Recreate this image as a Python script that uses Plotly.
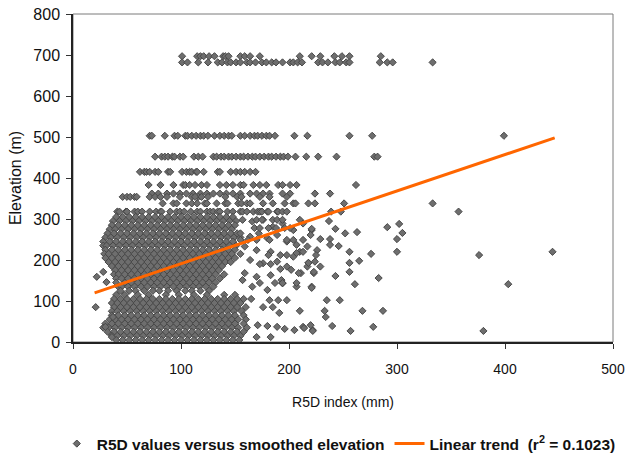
import plotly.graph_objects as go

# ---------------- data ----------------
# Horizontal bands of points (elevation level -> R5D values)
band_elev = [697, 682, 503, 452, 415, 383, 362, 354, 338, 318]
band_r5d = [
    [101, 115, 118, 121, 126, 131, 139, 141, 144, 155, 159, 164, 173, 210, 221, 229, 242, 249, 256, 285],
    [101, 106, 116, 125, 134, 138, 143, 146, 151, 155, 161, 164, 169, 175, 179, 184, 188, 194, 201, 204,
     208, 212, 227, 231, 236, 243, 247, 253, 256, 284, 291, 296, 333],
    [71, 73, 85, 94, 97, 104, 106, 110, 114, 118, 121, 125, 131, 136, 140, 144, 147, 155, 159, 164, 168,
     171, 175, 179, 182, 187, 205, 217, 256, 277, 399],
    [76, 82, 85, 88, 92, 94, 99, 102, 112, 116, 120, 130, 133, 137, 140, 144, 147, 151, 155, 158, 162,
     166, 169, 173, 177, 181, 184, 188, 192, 195, 199, 206, 216, 227, 244, 279, 282],
    [62, 66, 68, 71, 76, 79, 88, 90, 101, 105, 108, 110, 114, 115, 121, 134, 136, 146, 151, 155, 159, 164, 169],
    [70, 81, 93, 102, 104, 108, 113, 119, 124, 136, 142, 148, 155, 158, 167, 173, 179, 190, 194, 201, 207, 262],
    [73, 79, 87, 93, 99, 105, 111, 118, 124, 130, 136, 142, 148, 155, 164, 170, 176, 182, 194, 201, 224, 238],
    [46, 50, 53, 57, 59, 71, 76, 81, 87, 99, 110, 116, 113, 119, 125, 141, 152, 156, 173, 182, 198],
    [83, 93, 96, 105, 110, 115, 122, 124, 133, 141, 143, 153, 156, 161, 164, 176, 185, 196, 204, 206,
     218, 224, 251, 333],
    [41, 43, 49, 50, 57, 60, 64, 71, 77, 81, 82, 90, 96, 99, 103, 109, 115, 118, 124, 127, 130, 134, 136,
     143, 148, 155, 157, 161, 167, 171, 173, 175, 180, 181, 189, 190, 194, 198, 239, 248, 357],
]

# Dense cloud (elevation level -> R5D values)
core_elev = [305, 295, 285, 275, 265, 255, 245, 235, 225, 215, 205, 195, 185, 175, 165, 155, 145, 135,
             125, 115, 105, 95, 85, 75, 65, 55, 45, 35, 25, 15, 5]
core_r5d = [
    [40, 46, 52, 58, 64, 70, 76, 82, 88, 94, 100, 106, 112, 118, 124, 130, 136, 142, 148],
    [37, 43, 49, 55, 61, 67, 73, 79, 85, 91, 97, 103, 109, 115, 121, 127, 133, 139, 145, 151],
    [36, 42, 48, 54, 60, 66, 72, 78, 84, 90, 96, 102, 108, 114, 120, 126, 132, 138, 144, 150],
    [34, 39, 45, 51, 57, 63, 69, 75, 81, 87, 93, 99, 105, 111, 117, 123, 129, 135, 141, 147],
    [32, 38, 44, 50, 56, 62, 68, 74, 80, 86, 92, 98, 104, 110, 116, 122, 128, 134, 140, 146, 152],
    [30, 35, 41, 47, 53, 59, 65, 71, 77, 83, 89, 95, 101, 107, 113, 119, 125, 131, 137, 143, 149, 155],
    [28, 34, 40, 46, 52, 58, 64, 70, 76, 82, 88, 94, 100, 106, 112, 118, 124, 130, 136, 142, 148],
    [28, 31, 37, 43, 49, 55, 61, 67, 73, 79, 85, 91, 97, 103, 109, 115, 121, 127, 133, 139, 145, 151],
    [30, 36, 42, 48, 54, 60, 66, 72, 78, 84, 90, 96, 102, 108, 114, 120, 126, 132, 138, 144, 150],
    [29, 33, 39, 45, 51, 57, 63, 69, 75, 81, 87, 93, 99, 105, 111, 117, 123, 129, 135, 141, 147, 155],
    [30, 36, 42, 48, 54, 60, 66, 72, 78, 84, 90, 96, 102, 108, 114, 120, 126, 132, 138, 144, 150],
    [33, 39, 45, 51, 57, 63, 69, 75, 81, 87, 93, 99, 105, 111, 117, 123, 129, 135, 141, 146],
    [36, 42, 48, 54, 60, 66, 72, 78, 84, 90, 96, 102, 108, 114, 120, 126, 132, 138],
    [39, 45, 51, 57, 63, 69, 75, 81, 87, 93, 99, 105, 111, 117, 123, 129, 135],
    [38, 42, 48, 54, 60, 66, 72, 78, 84, 90, 96, 102, 108, 114, 120, 126, 132, 140],
    [40, 45, 51, 57, 63, 69, 75, 81, 87, 93, 99, 105, 111, 117, 123, 129, 136],
    [40, 48, 54, 60, 66, 72, 78, 84, 90, 96, 102, 108, 114, 120, 126, 132],
    [42, 45, 51, 57, 63, 69, 75, 81, 87, 93, 99, 105, 111, 117, 123, 130],
    [44, 52, 58, 66, 74, 80, 88, 96, 104, 110, 118, 126],
    [40, 48, 60, 70, 86, 98, 112, 124, 140, 150],
    [38, 44, 50, 56, 62, 68, 74, 80, 86, 92, 98, 104, 110, 116, 122, 128, 134, 140, 146, 152, 158, 165],
    [36, 41, 47, 53, 59, 65, 71, 77, 83, 89, 95, 101, 107, 113, 119, 125, 131, 137, 143, 149, 155],
    [38, 44, 50, 56, 62, 68, 74, 80, 86, 92, 98, 104, 110, 116, 122, 128, 134, 140, 146, 152, 160],
    [36, 41, 47, 53, 59, 65, 71, 77, 83, 89, 95, 101, 107, 113, 119, 125, 131, 137, 143, 149, 156],
    [36, 42, 48, 54, 60, 66, 72, 78, 84, 90, 96, 102, 108, 114, 120, 126, 132, 138, 144, 150, 158],
    [34, 39, 45, 51, 57, 63, 69, 75, 81, 87, 93, 99, 105, 111, 117, 123, 129, 135, 141, 147, 153, 160],
    [30, 36, 42, 48, 54, 60, 66, 72, 78, 84, 90, 96, 102, 108, 114, 120, 126, 132, 138, 144, 150, 158],
    [28, 33, 39, 45, 51, 57, 63, 69, 75, 81, 87, 93, 99, 105, 111, 117, 123, 129, 135, 141, 147, 153, 161],
    [32, 38, 44, 50, 56, 62, 68, 74, 80, 86, 92, 98, 104, 110, 116, 122, 128, 134, 140, 146, 152, 158],
    [36, 41, 47, 53, 59, 65, 71, 77, 83, 89, 95, 101, 107, 113, 119, 125, 131, 137, 143, 149, 155],
    [40, 46, 52, 58, 64, 70, 76, 82, 88, 94, 100, 106, 112, 118, 124, 130, 136, 142, 148, 154],
]

# Scattered points (R5D, elevation)
scatter_r5d = [157, 166, 176, 185, 194, 204, 213, 221, 155, 164, 172, 180, 189, 198, 207, 217, 226,
               159, 170, 183, 192, 204, 210, 164, 176, 189, 198, 217, 224, 159, 170, 183, 193, 202, 211,
               221, 166, 180, 194, 207, 157,
               170, 175, 185, 189, 194, 210, 168, 173, 181, 188, 196, 201,
               155, 162, 170, 182, 198, 204, 213,
               181, 198, 207, 218, 223, 209, 192, 183, 173, 173, 187, 194, 207, 182, 190, 198, 176, 185,
               191, 210, 171, 180, 189, 196, 205, 213, 222, 170, 183,
               237, 291, 302, 305, 300, 221, 243, 263, 252, 220, 229, 238, 238, 246, 300, 256, 276, 213,
               225, 376, 444, 265, 218, 256, 229, 223, 256, 243, 283, 261, 403, 221, 235, 247, 233, 268,
               287, 234, 220, 240, 278, 214, 222, 257, 380,
               21, 22, 28, 31, 37, 30, 36]
scatter_elev = [298, 294, 298, 281, 289, 273, 289, 273, 265, 257, 265, 253, 261, 245, 237, 233, 224,
                233, 224, 220, 212, 208, 220, 200, 192, 196, 184, 184, 196, 168, 159, 163, 151, 176, 168,
                135, 135, 127, 143, 135, 151,
                298, 298, 298, 298, 298, 298, 278, 278, 278, 278, 278, 278,
                249, 249, 249, 249, 249, 249, 249,
                212, 212, 217, 193, 168, 168, 178, 190, 190, 144, 144, 144, 144, 102, 102, 102, 85, 85,
                71, 76, 41, 39, 37, 32, 29, 37, 29, 12, 12,
                295, 280, 288, 266, 251, 276, 276, 268, 265, 261, 251, 251, 237, 234, 220, 220, 215, 220,
                212, 212, 220, 198, 193, 193, 184, 171, 171, 161, 156, 141, 141, 132, 102, 102, 76, 76,
                76, 61, 41, 39, 37, 34, 27, 27, 27,
                85, 159, 171, 146, 61, 37, 12]

# Linear trend end points
trend_r5d = [20, 446]
trend_elev = [120, 498]

# ---------------- build point arrays ----------------
pts_x, pts_y = [], []
for e, row in zip(band_elev, band_r5d):
    for v in row:
        pts_x.append(v)
        pts_y.append(e)
for e, row in zip(core_elev, core_r5d):
    for v in row:
        pts_x.append(v)
        pts_y.append(e)
pts_x += scatter_r5d
pts_y += scatter_elev

FONT = "Liberation Sans, Arial, sans-serif"

fig = go.Figure()
fig.add_trace(go.Scatter(
    x=pts_x, y=pts_y, mode="markers",
    name="R5D values versus smoothed elevation",
    marker=dict(symbol="diamond", size=5.5, color="#6e6e6e",
                line=dict(color="#484848", width=1)),
))
fig.add_trace(go.Scatter(
    x=trend_r5d, y=trend_elev, mode="lines",
    name="Linear trend\u00a0\u00a0(r<sup>2</sup>\u00a0=\u00a00.1023)",
    line=dict(color="#FF6600", width=3),
))

fig.add_shape(type="rect", xref="x domain", yref="y domain", x0=0, x1=1, y0=0, y1=1,
              line=dict(color="#7a7a7a", width=1), layer="below")

fig.update_layout(
    width=630, height=460,
    margin=dict(l=73, r=17, t=14, b=118, autoexpand=False),
    paper_bgcolor="white", plot_bgcolor="white",
    font=dict(family=FONT, color="#111111"),
    showlegend=True,
    legend=dict(orientation="h", x=-0.03, xanchor="left", y=-0.311, yanchor="middle",
                font=dict(family=FONT, size=15.5, color="#111111", weight="bold"),
                itemwidth=30, tracegroupgap=0, bgcolor="rgba(0,0,0,0)"),
    xaxis=dict(range=[0, 500], dtick=100, ticks="outside", ticklen=5, tickcolor="#333333",
               showline=True, linecolor="#222222", linewidth=1.5, showgrid=False, zeroline=False,
               tickfont=dict(size=14), ticklabelstandoff=8, automargin=False,
               title=dict(text="R5D index (mm)", font=dict(size=14), standoff=22)),
    yaxis=dict(range=[0, 800], dtick=100, ticks="outside", ticklen=5, tickcolor="#333333",
               showline=True, linecolor="#222222", linewidth=1.5, showgrid=False, zeroline=False,
               tickfont=dict(size=16), ticklabelstandoff=3, automargin=False,
               title=dict(text="Elevation (m)", font=dict(size=16), standoff=8)),
)

# remove the default 8px page margin so the 630x460 figure fills the window
fig.write_html("out.html", config={"displayModeBar": False},
               post_script="document.body.style.margin='0px';")
